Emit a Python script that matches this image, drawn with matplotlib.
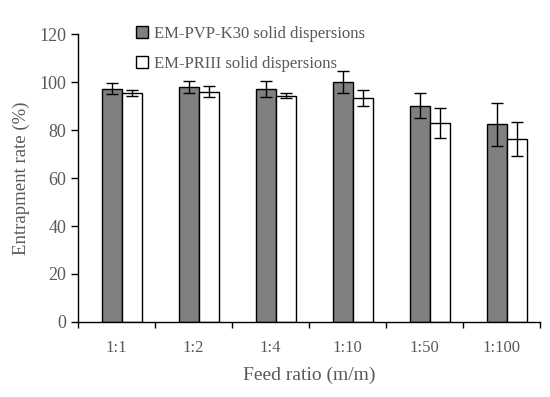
import matplotlib
matplotlib.use("Agg")
import matplotlib.pyplot as plt
import numpy as np

categories = ["1:1", "1:2", "1:4", "1:10", "1:50", "1:100"]
pvp_values = [97.2, 97.8, 97.2, 100.0, 90.2, 82.5]
pvp_errors = [2.3, 2.5, 3.3, 4.5, 5.3, 9.0]
prii_values = [95.5, 95.9, 94.3, 93.4, 83.0, 76.2]
prii_errors = [1.2, 2.3, 1.1, 3.2, 6.2, 7.0]
series_labels = ["EM-PVP-K30 solid dispersions", "EM-PRIII solid dispersions"]

plt.rcParams['font.family'] = ['Liberation Serif', 'DejaVu Serif']
txt = '#595959'

fig = plt.figure(figsize=(5.5, 3.97), dpi=100)
ax = fig.add_axes([0.142, 0.189, 0.840, 0.725])

x = np.arange(len(categories))
w = 0.255
off = 0.07
ax.bar(x + off - w/2 - 0.005, pvp_values, w, color='#808080', edgecolor='black', linewidth=1.0,
       yerr=pvp_errors, error_kw=dict(ecolor='black', elinewidth=1.0, capsize=4, capthick=1.0),
       label=series_labels[0])
ax.bar(x + off + w/2 + 0.005, prii_values, w, color='white', edgecolor='black', linewidth=1.0,
       yerr=prii_errors, error_kw=dict(ecolor='black', elinewidth=1.0, capsize=4, capthick=1.0),
       label=series_labels[1])

ax.set_xlim(-0.5, len(categories) - 0.5)
ax.set_ylim(0, 120)
ax.set_yticks(np.arange(0, 121, 20))
ax.set_xticks(x)
ax.set_xticklabels(categories)
ax.set_xticks(np.arange(-0.5, len(categories), 1.0), minor=True)
ax.tick_params(axis='x', which='major', length=0, pad=13, labelsize=12, labelcolor=txt)
ax.tick_params(axis='x', which='minor', length=4, direction='out', width=1)
ax.tick_params(axis='y', length=5, direction='out', width=1, labelsize=13, labelcolor=txt)
for s in ['top', 'right']:
    ax.spines[s].set_visible(False)
for s in ['left', 'bottom']:
    ax.spines[s].set_linewidth(1)

ax.set_ylabel("Entrapment rate (%)", fontsize=13.5, color=txt, labelpad=7)
ax.set_xlabel("Feed ratio (m/m)", fontsize=14, color=txt, labelpad=8)

leg = ax.legend(loc='upper left', bbox_to_anchor=(0.11, 1.052), frameon=False,
                fontsize=12, labelspacing=0.85, handlelength=0.75, handleheight=0.75,
                handletextpad=0.35, borderaxespad=0)
for t in leg.get_texts():
    t.set_color(txt)

fig.savefig("out.png", dpi=100)
